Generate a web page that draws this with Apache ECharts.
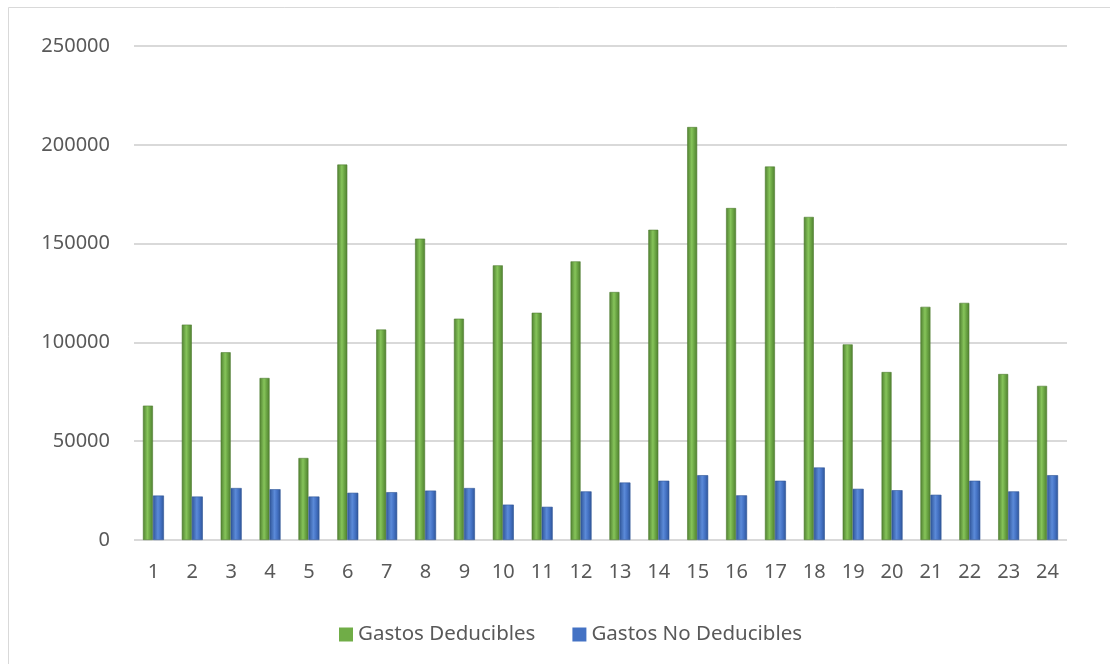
<!DOCTYPE html>
<html>
<head>
<meta charset="utf-8">
<script src="https://cdn.jsdelivr.net/npm/echarts@6/dist/echarts.min.js"></script>
<style>
html,body{margin:0;padding:0;background:#fff;}
#chart{width:1110px;height:664px;}
</style>
</head>
<body>
<div id="chart"></div>
<script>
const categories = ['1','2','3','4','5','6','7','8','9','10','11','12','13','14','15','16','17','18','19','20','21','22','23','24'];
const gastosDeducibles = [68000,109000,95000,82000,41500,190000,106500,152500,112000,139000,115000,141000,125500,157000,209000,168000,189000,163500,99000,85000,118000,120000,84000,78000];
const gastosNoDeducibles = [22500,22000,26300,25700,22000,23900,24200,25000,26300,17900,16800,24600,29100,30000,32800,22600,30000,36700,25900,25200,22900,30000,24600,32800];
const yTicks = {min:0, max:250000, interval:50000};
const seriesNames = ['Gastos Deducibles','Gastos No Deducibles'];

function cyl(dark, mid, light){
  return new echarts.graphic.LinearGradient(0,0,1,0,[
    {offset:0,color:dark},{offset:0.45,color:light},{offset:0.7,color:mid},{offset:1,color:dark}
  ]);
}
const chart = echarts.init(document.getElementById('chart'));
const font = "'Noto Sans', 'Liberation Sans', sans-serif";
chart.setOption({
  backgroundColor:'#fff',
  animation:false,
  graphic:[{type:'rect',shape:{x:8.5,y:7.5,width:1120,height:680},style:{fill:'none',stroke:'#d9d9d9',lineWidth:1},silent:true}],
  grid:{left:134,right:43,top:46,bottom:124,containLabel:false},
  legend:{
    data:[{name:seriesNames[0],itemStyle:{color:'#70AD47',borderWidth:0}},{name:seriesNames[1],itemStyle:{color:'#4472C4',borderWidth:0}}],
    top:619,left:334,itemWidth:14,itemHeight:14,itemGap:37,icon:'rect',
    textStyle:{color:'#595959',fontSize:20.5,fontFamily:font}
  },
  xAxis:{
    type:'category',data:categories,
    axisLine:{show:false},axisTick:{show:false},
    axisLabel:{color:'#595959',fontSize:20,fontFamily:font,margin:22}
  },
  yAxis:{
    type:'value',min:yTicks.min,max:yTicks.max,interval:yTicks.interval,
    axisLine:{show:false},axisTick:{show:false},
    axisLabel:{color:'#595959',fontSize:20,fontFamily:font,margin:24,formatter:v=>String(v)},
    splitLine:{lineStyle:{color:'#d9d9d9',width:2}}
  },
  series:[
    {name:seriesNames[0],type:'bar',data:gastosDeducibles,barWidth:10,barGap:'0%',
     itemStyle:{color:cyl('#4f7f30','#6aa443','#86c45a'),borderColor:'#507e32',borderWidth:0.6}},
    {name:seriesNames[1],type:'bar',data:gastosNoDeducibles,barWidth:11,barGap:'0%',
     itemStyle:{color:cyl('#2f5597','#4472C4','#5b8ad8'),borderColor:'#2f5597',borderWidth:0.6}}
  ]
});
</script>
</body>
</html>
